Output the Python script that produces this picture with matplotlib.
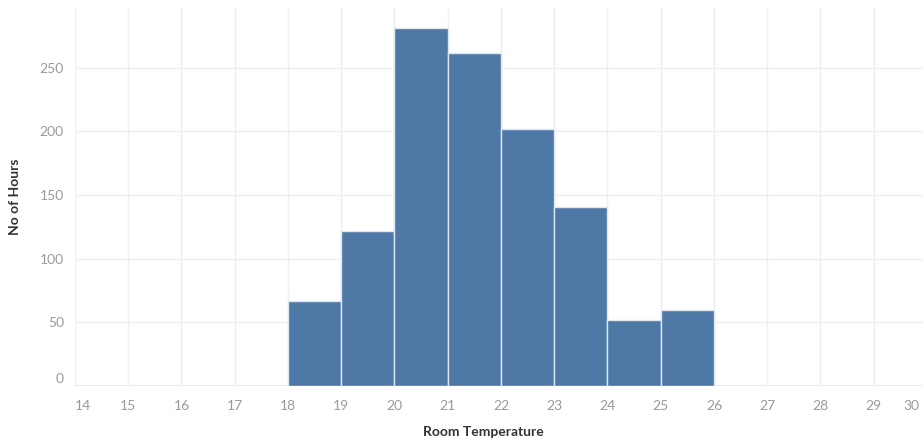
import matplotlib
matplotlib.use('Agg')
import matplotlib.pyplot as plt
from matplotlib.transforms import ScaledTranslation

# histogram bins (room temperature, deg C) and hour counts
bin_edges = [18, 19, 20, 21, 22, 23, 24, 25, 26]
hours = [67, 122, 281, 262, 202, 141, 52, 60]
x_ticks = list(range(14, 31))
y_ticks = [0, 50, 100, 150, 200, 250]

plt.rcParams['font.family'] = ['Lato', 'DejaVu Sans']

fig = plt.figure(figsize=(9.23, 4.43), dpi=100)
# axes runs a bit past the right edge, like the cropped original
ax = fig.add_axes([75 / 923, 1 - 386 / 443, (927 - 75) / 923 + 0.01, (386 - 8) / 443])

lefts = bin_edges[:-1]
widths = [b - a for a, b in zip(bin_edges[:-1], bin_edges[1:])]
ax.bar(lefts, hours, width=widths, align='edge', color='#4e79a7',
       edgecolor='#dfe6ee', linewidth=1.0, zorder=3)

ax.set_xlim(14, 14 + (927 - 75) / 53.25 + 0.01 * 923 / 53.25)
ax.set_ylim(0, 297)
ax.set_xticks(x_ticks)
ax.set_yticks(y_ticks)
ax.set_xticklabels([str(t) for t in x_ticks])
ax.set_yticklabels([str(t) for t in y_ticks])

ax.grid(True, color='#efefef', linewidth=1.0, zorder=0)
ax.axhline(0, color='#e6e6e6', linewidth=1.2, zorder=1)
for s in ax.spines.values():
    s.set_visible(False)
ax.tick_params(axis='both', length=0, colors='#9a9a9a', labelsize=10)
ax.tick_params(axis='x', pad=10)
ax.tick_params(axis='y', pad=8)

px = 1 / 100
xlabs = ax.get_xticklabels()
xlabs[0].set_horizontalalignment('left')
xlabs[-1].set_horizontalalignment('right')
xlabs[-1].set_transform(xlabs[-1].get_transform() + ScaledTranslation(-8 * px, 0, fig.dpi_scale_trans))
for lab in ax.get_yticklabels():
    if lab.get_text() == '0':
        lab.set_transform(lab.get_transform() + ScaledTranslation(0, 8 * px, fig.dpi_scale_trans))

fig.text(15 / 923, 1 - 197 / 443, 'No of Hours', rotation=90, ha='center', va='center',
         fontsize=10, color='#333333', fontweight='bold')
fig.text(483 / 923, 1 - 432 / 443, 'Room Temperature', ha='center', va='center',
         fontsize=10, color='#333333', fontweight='bold')

fig.savefig('out.png', dpi=100)
